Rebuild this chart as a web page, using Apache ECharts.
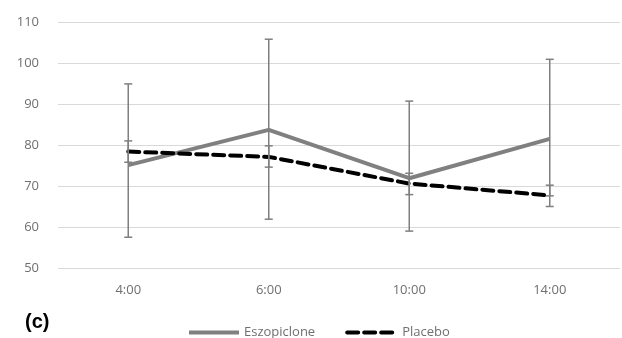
<!DOCTYPE html>
<html>
<head>
<meta charset="utf-8">
<script src="https://cdn.jsdelivr.net/npm/echarts@6/dist/echarts.min.js"></script>
<style>
html,body{margin:0;padding:0;background:#fff;}
#c{width:622px;height:338px;}
</style>
</head>
<body>
<div id="c"></div>
<script>
var categories = ['4:00', '6:00', '10:00', '14:00'];
var eszopicloneMean = [75.1, 83.7, 71.9, 81.5];
var eszopicloneLow = [57.5, 61.9, 59.0, 67.6];
var eszopicloneHigh = [94.9, 105.8, 90.7, 100.9];
var placeboMean = [78.4, 77.1, 70.6, 67.7];
var placeboLow = [75.8, 74.6, 67.9, 65.0];
var placeboHigh = [81.0, 79.8, 73.1, 70.2];
var yTicks = [50, 60, 70, 80, 90, 100, 110];

function errData(low, high) {
  return categories.map(function (c, i) { return [i, low[i], high[i]]; });
}

function renderErr(params, api) {
  var x = api.value(0);
  var lo = api.coord([x, api.value(1)]);
  var hi = api.coord([x, api.value(2)]);
  var hw = 4;
  var st = { stroke: '#7f7f7f', lineWidth: 1.5 };
  return {
    type: 'group',
    children: [
      { type: 'line', shape: { x1: lo[0], y1: lo[1], x2: hi[0], y2: hi[1] }, style: st },
      { type: 'line', shape: { x1: lo[0] - hw, y1: lo[1], x2: lo[0] + hw, y2: lo[1] }, style: st },
      { type: 'line', shape: { x1: hi[0] - hw, y1: hi[1], x2: hi[0] + hw, y2: hi[1] }, style: st }
    ]
  };
}

var chart = echarts.init(document.getElementById('c'), null, { renderer: 'canvas' });
var fontFam = '"Open Sans", "Noto Sans", sans-serif';
chart.setOption({
  animation: false,
  grid: { left: 58, right: 2, top: 22, bottom: 70 },
  xAxis: {
    type: 'category',
    data: categories,
    boundaryGap: true,
    axisLine: { show: false },
    axisTick: { show: false },
    axisLabel: { color: '#6f6f6f', fontSize: 13, fontFamily: fontFam, margin: 16 }
  },
  yAxis: {
    type: 'value',
    min: yTicks[0],
    max: yTicks[yTicks.length - 1],
    interval: 10,
    axisLine: { show: false },
    axisTick: { show: false },
    splitLine: { lineStyle: { color: '#d9d9d9', width: 1 } },
    axisLabel: { color: '#6f6f6f', fontSize: 13, fontFamily: fontFam, margin: 19 }
  },
  legend: {
    left: 182,
    top: 321,
    itemWidth: 50,
    itemHeight: 14,
    itemGap: 30,
    itemStyle: { opacity: 0 },
    lineStyle: { width: 4 },
    textStyle: { color: '#6f6f6f', fontSize: 13, fontFamily: fontFam },
    data: ['Eszopiclone', 'Placebo']
  },
  graphic: [
    { type: 'text', left: 25, top: 312, style: { text: '(c)', font: 'bold 20px Arial, "Liberation Sans", sans-serif', fill: '#000' } }
  ],
  series: [
    {
      name: 'Eszopiclone', type: 'line', data: eszopicloneMean, symbol: 'none',
      lineStyle: { color: '#808080', width: 4 }, itemStyle: { color: '#808080' }, z: 3
    },
    {
      name: 'Placebo', type: 'line', data: placeboMean, symbol: 'none',
      lineStyle: { color: '#000', width: 4, type: [11, 6], cap: 'round' }, itemStyle: { color: '#000' }, z: 4
    },
    {
      name: 'eszErr', type: 'custom', renderItem: renderErr, data: errData(eszopicloneLow, eszopicloneHigh), z: 5, silent: true
    },
    {
      name: 'plaErr', type: 'custom', renderItem: renderErr, data: errData(placeboLow, placeboHigh), z: 5, silent: true
    }
  ]
});
</script>
</body>
</html>
